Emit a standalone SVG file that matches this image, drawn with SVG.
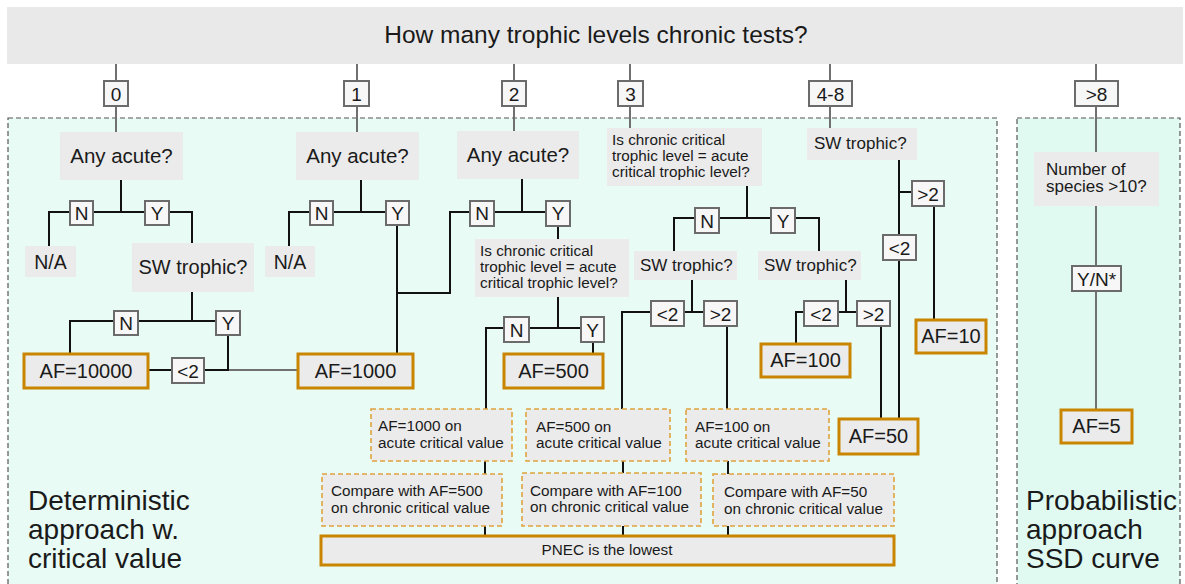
<svg xmlns="http://www.w3.org/2000/svg" width="1185" height="584" viewBox="0 0 1185 584">
<style>
text{font-family:"Liberation Sans",Arial,sans-serif;fill:#1a1a1a}
.region{stroke:#555;stroke-width:1.2;stroke-dasharray:5 3}
.q{fill:#ebebeb}
.lbl{fill:#f7f7f7;stroke:#6b6b6b;stroke-width:2}
.af{fill:#ebebeb;stroke:#c98500;stroke-width:3}
.dash{fill:#ebebeb;stroke:#dfa33d;stroke-width:1.6;stroke-dasharray:5 3}
.k{fill:none;stroke:#111;stroke-width:2}
.g{fill:none;stroke:#707070;stroke-width:2}
.t17{font-size:19px;text-anchor:middle}
.t19{font-size:20.5px;text-anchor:middle}
.t14{font-size:15.3px}
.t16{font-size:17px}
.big{font-size:28px}
</style>
<rect width="1185" height="584" fill="#ffffff"/>
<g id="regions">
<rect class="region" x="8" y="118" width="989" height="480" fill="#e8fbf5"/>
<rect class="region" x="1017" y="118" width="163" height="480" fill="#e0faf2"/>
<text class="big" x="28" y="510">Deterministic</text>
<text class="big" x="28" y="539">approach w.</text>
<text class="big" x="28" y="568">critical value</text>
<text class="big" x="1026" y="510">Probabilistic</text>
<text class="big" x="1026" y="539">approach</text>
<text class="big" x="1026" y="568">SSD curve</text>
</g>
<g id="banner">
<rect x="7" y="7" width="1176" height="57" fill="#e9e9e9"/>
<text x="596" y="43" font-size="24.5" text-anchor="middle">How many trophic levels chronic tests?</text>
</g>
<g id="connectors">
<path class="g" d="M116 64V81M116 106V132M357 64V81M357 106V132M514 64V81M514 106V131M630 64V81M630 106V128M830 64V81M830 106V128M1096 64V81M1096 106V152M1096 206V266M1096 291V410"/>
<path class="g" d="M229 370H298" stroke-width="1.6"/>
<path class="k" d="M121 180V212M49 246V212H70M93 212H145M169 212H192V243M192 292V321M70 354V321H114M138 321H216M228 335V370H204M172 370H148"/>
<path class="k" d="M361 180V212M289 246V212H310M333 212H386M397 225V354M397 293H450V212H470"/>
<path class="k" d="M522 179V212M494 212H546M558 226V239M558 297V328M486 410V328H504M529 328H581M593 342V354"/>
<path class="k" d="M747 186V218M674 251V218H695M719 218H771M795 218H819V251M692 280V312M622 410V312H651M684 312H704M727 326V410M846 280V312M796 344V312H804M838 312H857M881 326V419"/>
<path class="k" d="M899 160V235M899 260V419M899 192H912M934 206V320"/>
<path class="k" d="M485 461V474M485 526V535M623 461V473M623 526V535M728 461V474M728 526V535"/>
</g>
<g id="count-0"><rect class="lbl" x="104" y="81" width="24" height="25"/><text class="t17" x="116" y="100.5">0</text></g>
<g id="count-1"><rect class="lbl" x="344" y="81" width="25" height="25"/><text class="t17" x="356.5" y="100.5">1</text></g>
<g id="count-2"><rect class="lbl" x="502" y="81" width="24" height="25"/><text class="t17" x="514" y="100.5">2</text></g>
<g id="count-3"><rect class="lbl" x="618" y="81" width="25" height="25"/><text class="t17" x="630.5" y="100.5">3</text></g>
<g id="count-4-8"><rect class="lbl" x="809" y="81" width="43" height="25"/><text class="t17" x="830.5" y="100.5">4-8</text></g>
<g id="count-gt8"><rect class="lbl" x="1075" y="81" width="43" height="25"/><text class="t17" x="1096.5" y="100.5">&gt;8</text></g>

<g id="q-acute-0"><rect class="q" x="60" y="132" width="123" height="48"/><text class="t19" x="121.5" y="163">Any acute?</text></g>
<g id="q-acute-1"><rect class="q" x="296" y="132" width="123" height="48"/><text class="t19" x="357.5" y="163">Any acute?</text></g>
<g id="q-acute-2"><rect class="q" x="457" y="131" width="122" height="48"/><text class="t19" x="518" y="162">Any acute?</text></g>
<g id="q-crit-3"><rect class="q" x="607" y="128" width="155" height="58"/>
<text class="t14" x="612" y="145">Is chronic critical</text><text class="t14" x="612" y="161">trophic level = acute</text><text class="t14" x="612" y="177">critical trophic level?</text></g>
<g id="q-sw-48"><rect class="q" x="807" y="128" width="110" height="32"/><text class="t16" x="814" y="149">SW trophic?</text></g>
<g id="q-species"><rect class="q" x="1034" y="152" width="125" height="54"/><text class="t16" x="1046" y="175">Number of</text><text class="t16" x="1046" y="192">species &gt;10?</text></g>

<g id="b0-n"><rect class="lbl" x="70" y="201" width="23" height="24"/><text class="t17" x="81.5" y="220">N</text></g>
<g id="b0-y"><rect class="lbl" x="145" y="201" width="24" height="24"/><text class="t17" x="157" y="220">Y</text></g>
<g id="b0-na"><rect class="q" x="25" y="246" width="51" height="31"/><text x="50.5" y="269" font-size="19.5" text-anchor="middle">N/A</text></g>
<g id="b0-sw"><rect class="q" x="132" y="243" width="122" height="49"/><text x="193" y="274" font-size="20" text-anchor="middle">SW trophic?</text></g>
<g id="b0-sw-n"><rect class="lbl" x="114" y="311" width="24" height="24"/><text class="t17" x="126" y="330">N</text></g>
<g id="b0-sw-y"><rect class="lbl" x="216" y="311" width="24" height="24"/><text class="t17" x="228" y="330">Y</text></g>
<g id="af-10000"><rect class="af" x="24" y="354" width="124" height="34"/><text x="86" y="378" font-size="20" text-anchor="middle">AF=10000</text></g>
<g id="lt2-a"><rect class="lbl" x="172" y="358" width="32" height="25"/><text class="t17" x="188" y="377.5">&lt;2</text></g>

<g id="b1-n"><rect class="lbl" x="310" y="201" width="23" height="24"/><text class="t17" x="321.5" y="220">N</text></g>
<g id="b1-y"><rect class="lbl" x="386" y="201" width="23" height="24"/><text class="t17" x="397.5" y="220">Y</text></g>
<g id="b1-na"><rect class="q" x="265" y="246" width="50" height="31"/><text x="290" y="269" font-size="19.5" text-anchor="middle">N/A</text></g>
<g id="af-1000"><rect class="af" x="298" y="354" width="115" height="34"/><text x="355.5" y="378" font-size="20" text-anchor="middle">AF=1000</text></g>

<g id="b2-n"><rect class="lbl" x="470" y="201" width="24" height="25"/><text class="t17" x="482" y="220">N</text></g>
<g id="b2-y"><rect class="lbl" x="546" y="201" width="24" height="25"/><text class="t17" x="558" y="220">Y</text></g>
<g id="b2-crit"><rect class="q" x="475" y="239" width="154" height="58"/>
<text class="t14" x="480" y="256">Is chronic critical</text><text class="t14" x="480" y="272">trophic level = acute</text><text class="t14" x="480" y="288">critical trophic level?</text></g>
<g id="b2-crit-n"><rect class="lbl" x="504" y="317" width="25" height="25"/><text class="t17" x="516.5" y="336.5">N</text></g>
<g id="b2-crit-y"><rect class="lbl" x="581" y="317" width="23" height="25"/><text class="t17" x="592.5" y="336.5">Y</text></g>
<g id="af-500"><rect class="af" x="504" y="354" width="99" height="34"/><text x="553.5" y="378" font-size="20" text-anchor="middle">AF=500</text></g>

<g id="b3-n"><rect class="lbl" x="695" y="208" width="24" height="25"/><text class="t17" x="707" y="227.5">N</text></g>
<g id="b3-y"><rect class="lbl" x="771" y="208" width="24" height="25"/><text class="t17" x="783" y="227.5">Y</text></g>
<g id="b3-sw-n"><rect class="q" x="634" y="251" width="103" height="29"/><text class="t16" x="640" y="271">SW trophic?</text></g>
<g id="b3-sw-y"><rect class="q" x="758" y="251" width="103" height="29"/><text class="t16" x="764" y="271">SW trophic?</text></g>
<g id="b3-n-lt2"><rect class="lbl" x="651" y="301" width="33" height="25"/><text class="t17" x="667.5" y="320.5">&lt;2</text></g>
<g id="b3-n-gt2"><rect class="lbl" x="704" y="301" width="33" height="25"/><text class="t17" x="720.5" y="320.5">&gt;2</text></g>
<g id="b3-y-lt2"><rect class="lbl" x="804" y="301" width="34" height="25"/><text class="t17" x="821" y="320.5">&lt;2</text></g>
<g id="b3-y-gt2"><rect class="lbl" x="857" y="301" width="33" height="25"/><text class="t17" x="873.5" y="320.5">&gt;2</text></g>
<g id="af-100"><rect class="af" x="761" y="344" width="89" height="33"/><text x="805.5" y="367" font-size="20" text-anchor="middle">AF=100</text></g>

<g id="b48-gt2"><rect class="lbl" x="912" y="181" width="32" height="25"/><text class="t17" x="928" y="200.5">&gt;2</text></g>
<g id="b48-lt2"><rect class="lbl" x="883" y="235" width="33" height="25"/><text class="t17" x="899.5" y="254.5">&lt;2</text></g>
<g id="af-10"><rect class="af" x="916" y="320" width="70" height="33"/><text x="951" y="343" font-size="20" text-anchor="middle">AF=10</text></g>
<g id="af-50"><rect class="af" x="839" y="419" width="79" height="35"/><text x="878.5" y="443" font-size="20" text-anchor="middle">AF=50</text></g>

<g id="yn"><rect class="lbl" x="1072" y="266" width="49" height="25"/><text class="t17" x="1096.5" y="285.5">Y/N*</text></g>
<g id="af-5"><rect class="af" x="1061" y="410" width="71" height="33"/><text x="1096.5" y="433" font-size="20" text-anchor="middle">AF=5</text></g>

<g id="acute-1000"><rect class="dash" x="371" y="409" width="141" height="52"/><text class="t14" x="378" y="431">AF=1000 on</text><text class="t14" x="378" y="448">acute critical value</text></g>
<g id="acute-500"><rect class="dash" x="526" y="409" width="144" height="52"/><text class="t14" x="536" y="432">AF=500 on</text><text class="t14" x="536" y="448">acute critical value</text></g>
<g id="acute-100"><rect class="dash" x="686" y="409" width="143" height="52"/><text class="t14" x="695" y="432">AF=100 on</text><text class="t14" x="695" y="448">acute critical value</text></g>
<g id="chronic-500"><rect class="dash" x="322" y="474" width="180" height="52"/><text class="t14" x="331" y="496">Compare with AF=500</text><text class="t14" x="331" y="513">on chronic critical value</text></g>
<g id="chronic-100"><rect class="dash" x="522" y="473" width="179" height="53"/><text class="t14" x="530" y="496">Compare with AF=100</text><text class="t14" x="530" y="512">on chronic critical value</text></g>
<g id="chronic-50"><rect class="dash" x="713" y="474" width="181" height="52"/><text class="t14" x="724" y="497">Compare with AF=50</text><text class="t14" x="724" y="514">on chronic critical value</text></g>
<g id="pnec"><rect class="af" x="321" y="536" width="573" height="29"/><text class="t14" x="607" y="555" text-anchor="middle">PNEC is the lowest</text></g>
</svg>
